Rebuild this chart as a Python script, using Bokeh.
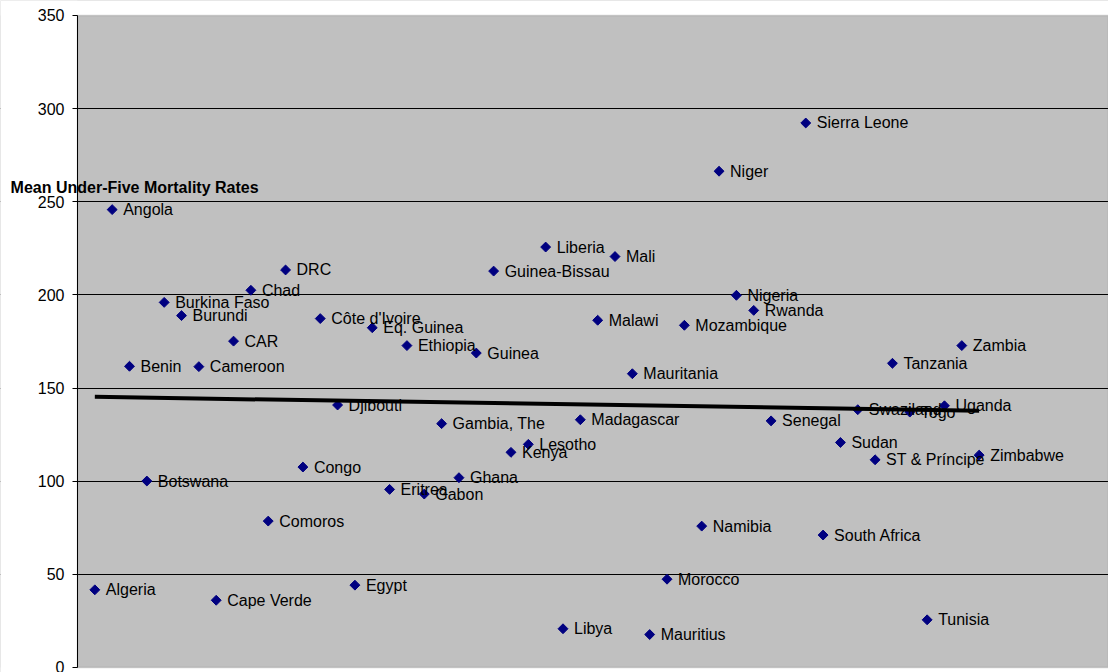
import numpy as np
from bokeh.plotting import figure
from bokeh.models import Label, BoxAnnotation, FixedTicker, ColumnDataSource
from bokeh.core.properties import value
from bokeh.embed import file_html
from bokeh.resources import INLINE

# ---- data -------------------------------------------------------------
countries = [
    "Algeria", "Angola", "Benin", "Botswana", "Burkina Faso", "Burundi",
    "Cameroon", "Cape Verde", "CAR", "Chad", "Comoros", "DRC", "Congo",
    "Côte d'Ivoire", "Djibouti", "Egypt", "Eq. Guinea", "Eritrea", "Ethiopia",
    "Gabon", "Gambia, The", "Ghana", "Guinea", "Guinea-Bissau", "Kenya",
    "Lesotho", "Liberia", "Libya", "Madagascar", "Malawi", "Mali",
    "Mauritania", "Mauritius", "Morocco", "Mozambique", "Namibia", "Niger",
    "Nigeria", "Rwanda", "Senegal", "Sierra Leone", "South Africa", "Sudan",
    "Swaziland", "ST & Príncipe", "Tanzania", "Togo", "Tunisia", "Uganda",
    "Zambia", "Zimbabwe",
]
# category position of each country (position 41 has no value)
category_index = [
    1, 2, 3, 4, 5, 6, 7, 8, 9, 10, 11, 12, 13, 14, 15, 16, 17, 18, 19, 20,
    21, 22, 23, 24, 25, 26, 27, 28, 29, 30, 31, 32, 33, 34, 35, 36, 37, 38,
    39, 40, 42, 43, 44, 45, 46, 47, 48, 49, 50, 51, 52,
]
mortality = [
    41.7, 245.8, 161.7, 100.1, 196.0, 188.9, 161.5, 36.1, 175.2, 202.5,
    78.6, 213.4, 107.6, 187.3, 140.9, 44.2, 182.4, 95.6, 172.8, 93.1,
    130.9, 101.9, 168.8, 212.8, 115.5, 119.8, 225.7, 20.8, 133.0, 186.4,
    220.6, 157.7, 17.7, 47.4, 183.7, 75.9, 266.4, 199.8, 191.7, 132.4,
    292.3, 71.1, 120.8, 138.4, 111.5, 163.3, 137.1, 25.6, 140.5, 172.8,
    114.0,
]
y_ticks = [0, 50, 100, 150, 200, 250, 300, 350]
axis_title = "Mean Under-Five Mortality Rates"

FONT = "Liberation Sans"
Y_MIN, Y_MAX = 0, 350

# ---- figure -----------------------------------------------------------
p = figure(
    width=1108, height=672,
    x_range=(-4.44, 59.46), y_range=(-2.68, 358.05),
    output_backend="svg", toolbar_location=None,
    min_border_left=0, min_border_right=0,
    min_border_top=0, min_border_bottom=0,
)
p.background_fill_color = "#C0C0C0"
p.border_fill_color = "white"
p.outline_line_color = None

p.xaxis.visible = False
p.xgrid.visible = False

ax = p.yaxis[0]
ax.fixed_location = 0
ax.bounds = (Y_MIN, Y_MAX)
ax.ticker = FixedTicker(ticks=y_ticks)
ax.axis_line_color = "black"
ax.axis_line_width = 1
ax.major_tick_line_color = "black"
ax.major_tick_out = 5
ax.major_tick_in = 0
ax.minor_tick_line_color = None
ax.major_label_standoff = 8
ax.major_label_text_font = FONT
ax.major_label_text_font_size = "16px"
ax.major_label_text_color = "black"

p.ygrid.ticker = FixedTicker(ticks=[t for t in y_ticks if Y_MIN < t < Y_MAX])
p.ygrid.grid_line_color = "black"
p.ygrid.grid_line_width = 1

# white surroundings of the plot area, and the plot-area border
for kw in (dict(right=0), dict(bottom=Y_MAX), dict(top=Y_MIN)):
    p.add_layout(BoxAnnotation(fill_color="white", fill_alpha=1.0,
                               line_color=None, level="underlay", **kw))
p.add_layout(BoxAnnotation(left=0, bottom=Y_MIN, top=Y_MAX, fill_alpha=0.0,
                           line_color="#808080", line_width=1.5,
                           level="underlay"))

src = ColumnDataSource(dict(x=category_index, y=mortality, name=countries))

p.scatter("x", "y", source=src, marker="square", angle=np.pi / 4, size=7,
          fill_color="#000080", line_color="#000080")

p.text("x", "y", text="name", source=src, x_offset=11,
       text_baseline="middle", text_align="left",
       text_font=value(FONT), text_font_size="16px", text_color="black")

# linear trend line fitted to the data
slope, intercept = np.polyfit(category_index, mortality, 1)
tx = [category_index[0], category_index[-1]]
ty = [intercept + slope * v for v in tx]
p.line(tx, ty, line_color="black", line_width=4)

p.add_layout(Label(x=-3.86, y=257.8, text=axis_title,
                   text_font=FONT, text_font_size="16px",
                   text_font_style="bold", text_color="black",
                   text_baseline="middle", text_align="left"))

open("out.html", "w").write(file_html(p, INLINE))
